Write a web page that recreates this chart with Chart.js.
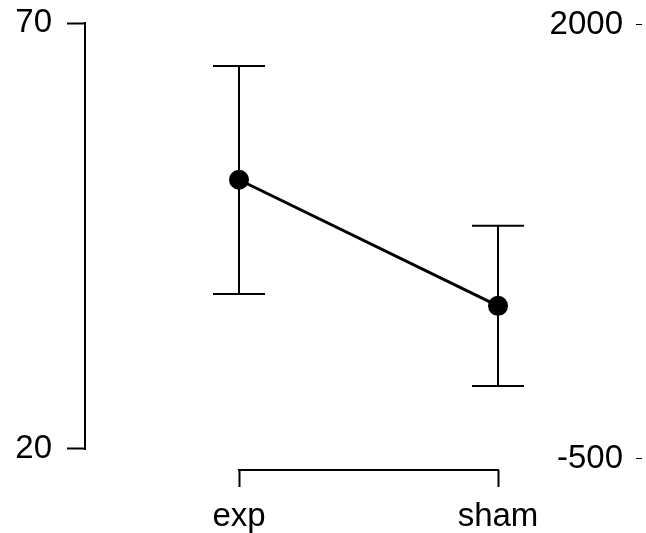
<!DOCTYPE html>
<html>
<head>
<meta charset="utf-8">
<script src="https://cdn.jsdelivr.net/npm/chart.js@4/dist/chart.umd.min.js"></script>
<style>
html,body{margin:0;padding:0;background:#fff;}
#wrap{width:646px;height:533px;}
</style>
</head>
<body>
<div id="wrap"><canvas id="c" width="646" height="533"></canvas></div>
<script>
// ---- data ----
const categories = ['exp', 'sham'];
const means = [51.6, 36.8];
const lower = [38.2, 27.4];
const upper = [64.95, 46.2];
const leftTicks = [20, 70];
const rightTicks = [-500, 2000];

const FONT = {family: '"Liberation Sans", Arial, sans-serif', size: 33};

const errorBarsAndAxes = {
  id: 'errorBarsAndAxes',
  afterDatasetsDraw(chart) {
    const ctx = chart.ctx;
    const xs = chart.scales.x, ys = chart.scales.y;
    ctx.save();
    ctx.strokeStyle = '#000';
    ctx.lineWidth = 2;
    for (let i = 0; i < categories.length; i++) {
      const px = xs.getPixelForValue(i);
      const yl = ys.getPixelForValue(lower[i]);
      const yu = ys.getPixelForValue(upper[i]);
      ctx.beginPath();
      ctx.moveTo(px, yl); ctx.lineTo(px, yu);
      ctx.moveTo(px - 26, yu); ctx.lineTo(px + 26, yu);
      ctx.moveTo(px - 26, yl); ctx.lineTo(px + 26, yl);
      ctx.stroke();
    }
    ctx.restore();
  },
  afterDraw(chart) {
    const ctx = chart.ctx;
    const xs = chart.scales.x, ys = chart.scales.y;
    ctx.save();
    ctx.strokeStyle = '#000';
    ctx.lineWidth = 2;
    ctx.lineCap = 'square';
    const lx = ys.right;
    ctx.beginPath();
    ctx.moveTo(lx, ys.getPixelForValue(leftTicks[0]));
    ctx.lineTo(lx, ys.getPixelForValue(leftTicks[leftTicks.length - 1]));
    ctx.stroke();
    const by = xs.top;
    ctx.beginPath();
    ctx.moveTo(xs.getPixelForValue(0), by);
    ctx.lineTo(xs.getPixelForValue(categories.length - 1), by);
    ctx.stroke();
    ctx.restore();
  }
};

const points = categories.map((c, i) => ({x: i, y: means[i]}));

function noPad(s) { s.paddingTop = 0; s.paddingBottom = 0; s.paddingLeft = 0; s.paddingRight = 0; }

new Chart(document.getElementById('c'), {
  type: 'line',
  data: {
    datasets: [{
      data: points,
      borderColor: '#000',
      backgroundColor: '#000',
      borderWidth: 3,
      pointRadius: 10,
      pointBackgroundColor: '#000',
      pointBorderColor: '#000',
      pointBorderWidth: 0,
      tension: 0,
      yAxisID: 'y'
    }]
  },
  options: {
    responsive: false,
    animation: false,
    devicePixelRatio: 1,
    layout: {padding: {left: 16, top: 23, right: 0, bottom: 0}},
    plugins: {legend: {display: false}, tooltip: {enabled: false}},
    scales: {
      x: {
        type: 'linear',
        min: -0.5946,
        max: 1.5328,
        afterBuildTicks(s) { s.ticks = categories.map((c, i) => ({value: i})); },
        afterFit(s) { s.height = 63; noPad(s); },
        ticks: {
          callback: (v) => categories[v],
          color: '#000',
          font: FONT,
          padding: 10,
          maxRotation: 0,
          autoSkip: false
        },
        grid: {drawOnChartArea: false, drawTicks: true, tickLength: 17, tickWidth: 2, tickColor: '#000'},
        border: {display: false}
      },
      y: {
        position: 'left',
        min: 17.535,
        max: 70,
        afterBuildTicks(s) { s.ticks = leftTicks.map(v => ({value: v})); },
        afterFit(s) { s.width = 69; noPad(s); },
        ticks: {color: '#000', font: FONT, padding: 15, callback: (v) => String(v)},
        grid: {drawOnChartArea: false, drawTicks: true, tickLength: 18, tickWidth: 2, tickColor: '#000'},
        border: {display: false}
      },
      y2: {
        position: 'right',
        min: -563.4,
        max: 2011.5,
        afterBuildTicks(s) { s.ticks = rightTicks.map(v => ({value: v})); },
        afterFit(s) { s.width = 3; noPad(s); },
        ticks: {color: '#000', font: FONT, padding: -13, mirror: true, callback: (v) => String(v)},
        grid: {drawOnChartArea: false, drawTicks: true, tickLength: 6, tickWidth: 1, tickColor: '#000'},
        border: {display: false}
      }
    }
  },
  plugins: [errorBarsAndAxes]
});
</script>
</body>
</html>
